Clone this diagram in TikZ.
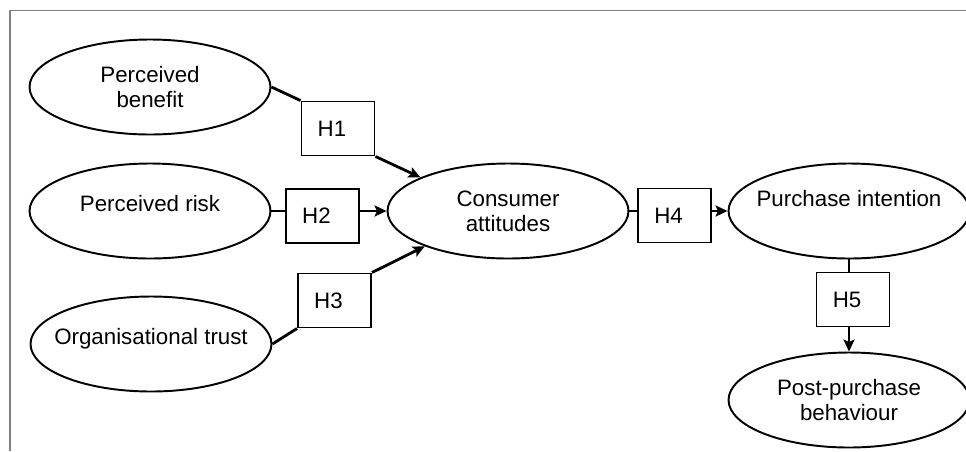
\documentclass[tikz,border=0pt]{standalone}
\usepackage{fontspec}
\setmainfont{Liberation Sans}
\usetikzlibrary{shapes.geometric,arrows.meta}

\begin{document}
\begin{tikzpicture}[
    x=0.02cm, y=-0.02cm,
    latent/.style={ellipse, draw, line width=1.1pt, minimum width=4.82cm, minimum height=1.9cm, inner xsep=-0.6cm, inner ysep=0pt, align=center, font=\fontsize{12.7}{14.4}\selectfont},
    lifted/.style={text height=9pt, text depth=#1},
    hyp/.style={rectangle, draw, line width=1.1pt, minimum width=1.46cm, minimum height=1.08cm, inner sep=0pt, font=\fontsize{12.7}{14.4}\selectfont, execute at end node=\hspace*{0.24cm}},
    plainline/.style={draw, line width=1.6pt},
    arrowline/.style={draw, line width=1.6pt, -{Stealth[length=0.24cm, width=0.22cm, inset=0.05cm]}},
    frame/.style={draw, gray, line width=1pt}
    ]
    \useasboundingbox (0,0) rectangle (966,451);
    \draw [frame] (10,451) |- (966,10.5);

    \node [latent] (benefit) at (150,87) {Perceived\\benefit};
    \node [latent, lifted=8.1pt] (risk) at (150,211) {Perceived risk};
    \node [latent, lifted=8.1pt] (trust) at (151,344) {Organisational trust};
    \node [latent] (attitude) at (508,211) {Consumer\\attitudes};
    \node [latent, lifted=14.3pt] (intention) at (849,211) {Purchase intention};
    \node [latent] (behaviour) at (849,400) {Post-purchase\\behaviour};

    \node [hyp] (h1) at (338,128.5) {H1};
    \node [hyp] (h2) at (322.5,216) {H2};
    \node [hyp] (h3) at (334.5,300.5) {H3};
    \node [hyp] (h4) at (674.5,215.5) {H4};
    \node [hyp] (h5) at (853,299.5) {H5};

    \draw [plainline] (benefit.east) -- (h1.north west);
    \draw [arrowline] (h1.south east) -- (attitude.159);
    \draw [plainline] (risk.east) -- (risk.east -| h2.west);
    \draw [arrowline] (h2.east |- attitude.west) -- (attitude.west);
    \draw [plainline] (trust.east) -- (h3.south west);
    \draw [arrowline] (h3.north east) -- (attitude.203);
    \draw [plainline] (attitude.east) -- (attitude.east -| h4.west);
    \draw [arrowline] (h4.east |- intention.west) -- (intention.west);
    \draw [plainline] (intention.south) -- (intention.south |- h5.north);
    \draw [arrowline] (h5.south -| behaviour.north) -- (behaviour.north);
\end{tikzpicture}
\end{document}
